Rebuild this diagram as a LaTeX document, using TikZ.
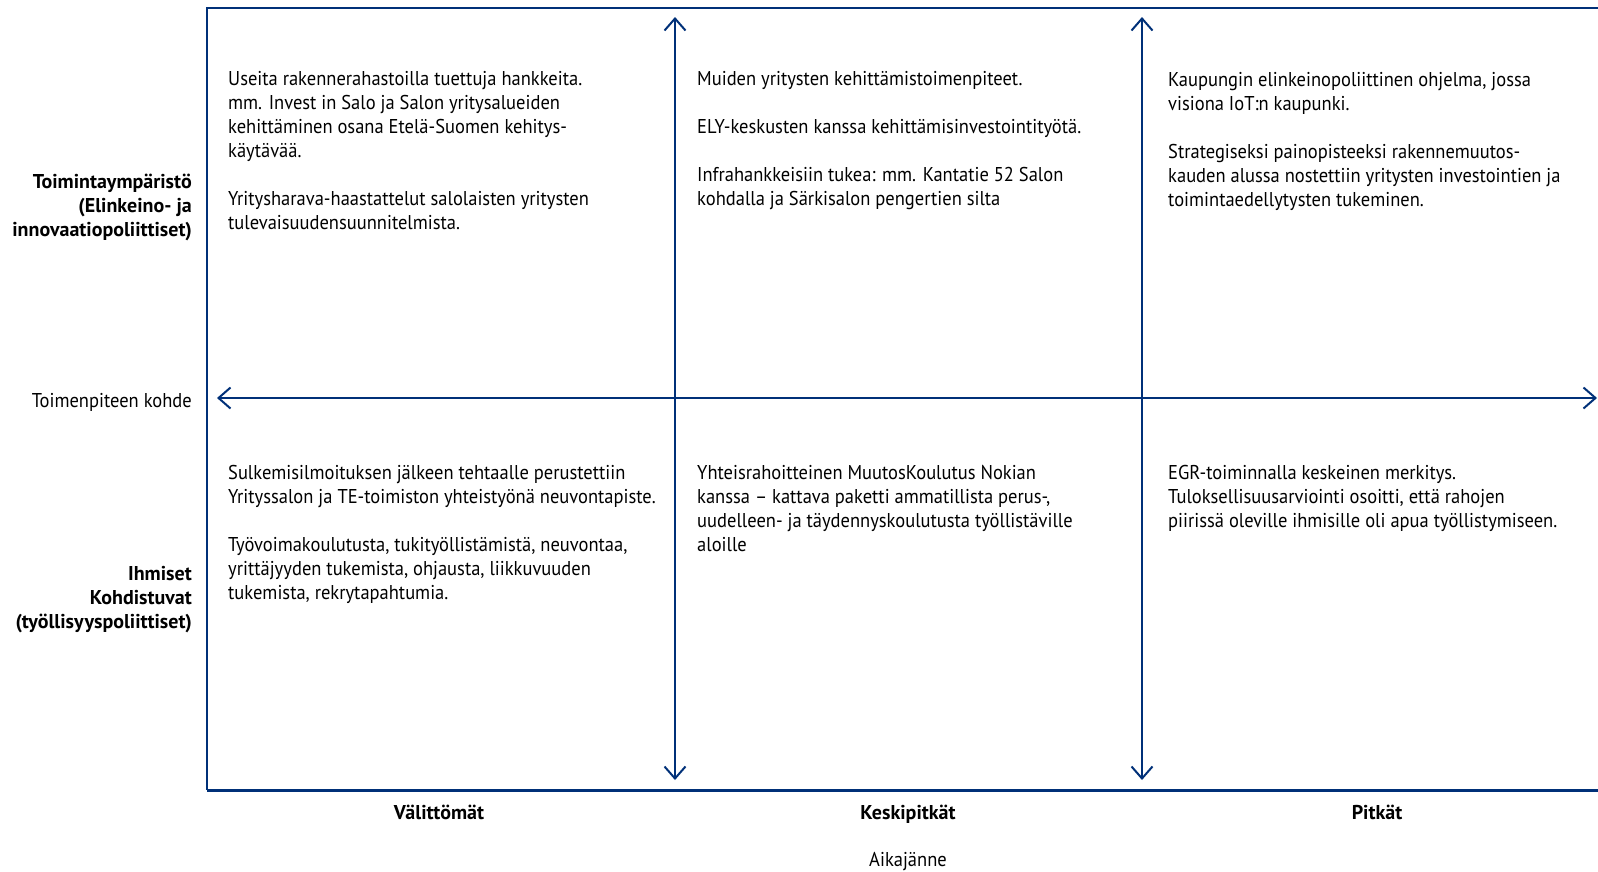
\documentclass[tikz,border=0pt]{standalone}
\usepackage{fontspec}
\setmainfont[FakeStretch=0.925, BoldFeatures={FakeStretch=1.0}]{PT Sans}
\usetikzlibrary{arrows.meta}
\definecolor{navy}{RGB}{0,48,120}

\begin{document}
\begin{tikzpicture}[x=1pt,y=-1pt,
  frame/.style={draw=navy, line width=2pt},
  axis/.style={draw=navy, line width=2pt,
    {Straight Barb[length=12pt,width=21pt]}-{Straight Barb[length=12pt,width=21pt]}},
  % multi-line nodes are placed by the baseline of their last line
  body/.style={font=\fontsize{20}{24}\selectfont, align=left, anchor=base west, inner sep=0pt},
  side/.style={font=\fontsize{20}{24}\selectfont, align=right, anchor=base east, inner sep=0pt},
  sidebold/.style={side, font=\fontsize{20}{24}\selectfont\bfseries},
  period/.style={font=\fontsize{20}{24}\selectfont\bfseries, anchor=base, inner sep=0pt},
  caption/.style={font=\fontsize{20}{24}\selectfont, anchor=base, inner sep=0pt}
]
\useasboundingbox (0,0) rectangle (1598,871);

% frame: left, top and bottom edges
\coordinate (tl) at (207,8);
\coordinate (tr) at (1598,8);
\coordinate (bl) at (207,790);
\coordinate (br) at (1598,790);
\draw[frame] (tr) -- (tl) -- (bl);
\draw[frame, line width=3pt] (bl) -- (br);

% axes
\coordinate (v1top) at (675,17);
\coordinate (v1bot) at (675,780);
\coordinate (v2top) at (1142,17);
\coordinate (v2bot) at (1142,780);
\coordinate (hleft) at (217,398);
\coordinate (hright) at (1597,398);
\draw[axis] (v1top) -- (v1bot);
\draw[axis] (v2top) -- (v2bot);
\draw[axis] (hleft) -- (hright);

% row labels
\node[sidebold] (envlabel) at (192,236.3) {Toimintaympäristö\\(Elinkeino- ja\\innovaatiopoliittiset)};
\node[side] (target) at (192,407.5) {Toimenpiteen kohde};
\node[sidebold] (peoplelabel) at (192,628.7) {Ihmiset\\Kohdistuvat\\(työllisyyspoliittiset)};

% quadrant texts, upper row
\node[body] (q11) at (228,229.2) {Useita rakennerahastoilla tuettuja hankkeita.\\mm. Invest in Salo ja Salon yritysalueiden\\kehittäminen osana Etelä-Suomen kehitys-\\käytävää.\\[24pt]Yritysharava-haastattelut salolaisten yritysten\\tulevaisuudensuunnitelmista.};
\node[body] (q12) at (697,205.7) {Muiden yritysten kehittämistoimenpiteet.\\[24pt]ELY-keskusten kanssa kehittämisinvestointityötä.\\[24pt]Infrahankkeisiin tukea: mm. Kantatie 52 Salon\\kohdalla ja Särkisalon pengertien silta};
\node[body] (q13) at (1168,206.5) {Kaupungin elinkeinopoliittinen ohjelma, jossa\\visiona IoT:n kaupunki.\\[24pt]Strategiseksi painopisteeksi rakennemuutos-\\kauden alussa nostettiin yritysten investointien ja\\toimintaedellytysten tukeminen.};

% quadrant texts, lower row
\node[body] (q21) at (228,599.1) {Sulkemisilmoituksen jälkeen tehtaalle perustettiin\\Yrityssalon ja TE-toimiston yhteistyönä neuvontapiste.\\[24pt]Työvoimakoulutusta, tukityöllistämistä, neuvontaa,\\yrittäjyyden tukemista, ohjausta, liikkuvuuden\\tukemista, rekrytapahtumia.};
\node[body] (q22) at (697,551.2) {Yhteisrahoitteinen MuutosKoulutus Nokian\\kanssa – kattava paketti ammatillista perus-,\\uudelleen- ja täydennyskoulutusta työllistäville\\aloille};
\node[body] (q23) at (1168,527.8) {EGR-toiminnalla keskeinen merkitys.\\Tuloksellisuusarviointi osoitti, että rahojen\\piirissä oleville ihmisille oli apua työllistymiseen.};

% time span labels
\node[period] (short) at (439,819) {Välittömät};
\node[period] (medium) at (908,819) {Keskipitkät};
\node[period] (long) at (1377,819) {Pitkät};
\node[caption] (span) at (908,866) {Aikajänne};
\end{tikzpicture}
\end{document}
